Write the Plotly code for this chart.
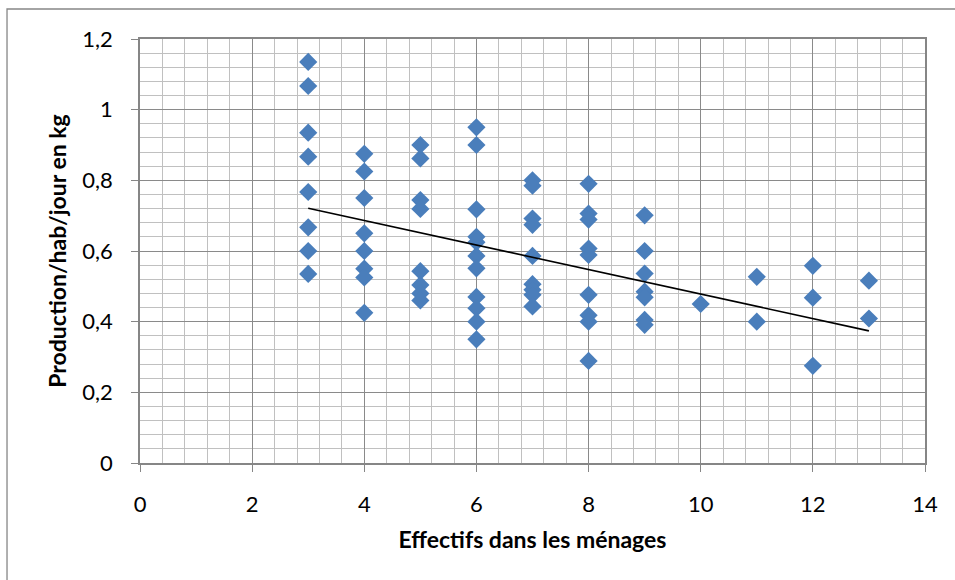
import plotly.graph_objects as go

# Household size (x) and daily waste production per inhabitant in kg (y)
size_3 = [1.135, 1.067, 0.935, 0.867, 0.767, 0.667, 0.6, 0.535]
size_4 = [0.875, 0.825, 0.75, 0.65, 0.6, 0.55, 0.525, 0.425]
size_5 = [0.9, 0.862, 0.744, 0.719, 0.543, 0.504, 0.48, 0.46]
size_6 = [0.95, 0.9, 0.718, 0.64, 0.625, 0.586, 0.551, 0.47, 0.438, 0.4, 0.35]
size_7 = [0.8, 0.785, 0.692, 0.674, 0.586, 0.506, 0.49, 0.476, 0.443]
size_8 = [0.79, 0.706, 0.689, 0.607, 0.589, 0.476, 0.418, 0.4, 0.289]
size_9 = [0.701, 0.6, 0.536, 0.485, 0.469, 0.405, 0.391]
size_10 = [0.45]
size_11 = [0.527, 0.4]
size_12 = [0.558, 0.468, 0.275]
size_13 = [0.516, 0.409]

groups = {3: size_3, 4: size_4, 5: size_5, 6: size_6, 7: size_7, 8: size_8,
          9: size_9, 10: size_10, 11: size_11, 12: size_12, 13: size_13}

# Linear trend line: value at the smallest and largest household size
trend_x = [3, 13]
trend_y = [0.721, 0.374]

x_vals = [k for k, vals in groups.items() for _ in vals]
y_vals = [v for vals in groups.values() for v in vals]

FONT = "Lato"

fig = go.Figure()
fig.add_trace(go.Scatter(
    x=x_vals, y=y_vals, mode="markers",
    marker=dict(symbol="diamond", size=14, color="#4A7EBB",
                line=dict(width=0)),
    showlegend=False, hoverinfo="x+y",
))
fig.add_trace(go.Scatter(
    x=trend_x, y=trend_y, mode="lines",
    line=dict(color="black", width=1.6),
    showlegend=False, hoverinfo="skip",
))

axis_common = dict(
    showline=True, linecolor="#868686", linewidth=1.5, mirror=True,
    ticks="outside", ticklen=7, tickcolor="#868686", tickwidth=1.3,
    showgrid=True, gridcolor="#8a8a8a", gridwidth=1.4,
    zeroline=False,
    tickfont=dict(family=FONT, size=22, color="black"),
)

fig.update_xaxes(
    range=[0, 14], tick0=0, dtick=2,
    ticklabelstandoff=14,
    minor=dict(dtick=0.4, showgrid=True, gridcolor="#c0c0c0", gridwidth=1.4),
    title=dict(text="<b>Effectifs dans les ménages</b>",
               font=dict(family=FONT, size=23, color="black"), standoff=16),
    **axis_common,
)
fig.update_yaxes(
    range=[0, 1.2], tick0=0, dtick=0.2,
    ticklabelstandoff=14,
    minor=dict(dtick=0.04, showgrid=True, gridcolor="#c0c0c0", gridwidth=1.4),
    title=dict(text="<b>Production/hab/jour en kg</b>",
               font=dict(family=FONT, size=23, color="black"), standoff=9),
    **axis_common,
)

# Chart frame
fig.add_shape(type="rect", xref="paper", yref="paper",
              x0=-0.1694, x1=1.06, y0=-0.32, y1=1.0708,
              line=dict(color="#868686", width=1.3), layer="below")

fig.update_layout(
    width=955, height=580,
    margin=dict(l=140, r=30, t=39, b=117),
    paper_bgcolor="white", plot_bgcolor="white",
    separators=", ",
    font=dict(family=FONT, color="black"),
)

fig.write_html("out.html")
